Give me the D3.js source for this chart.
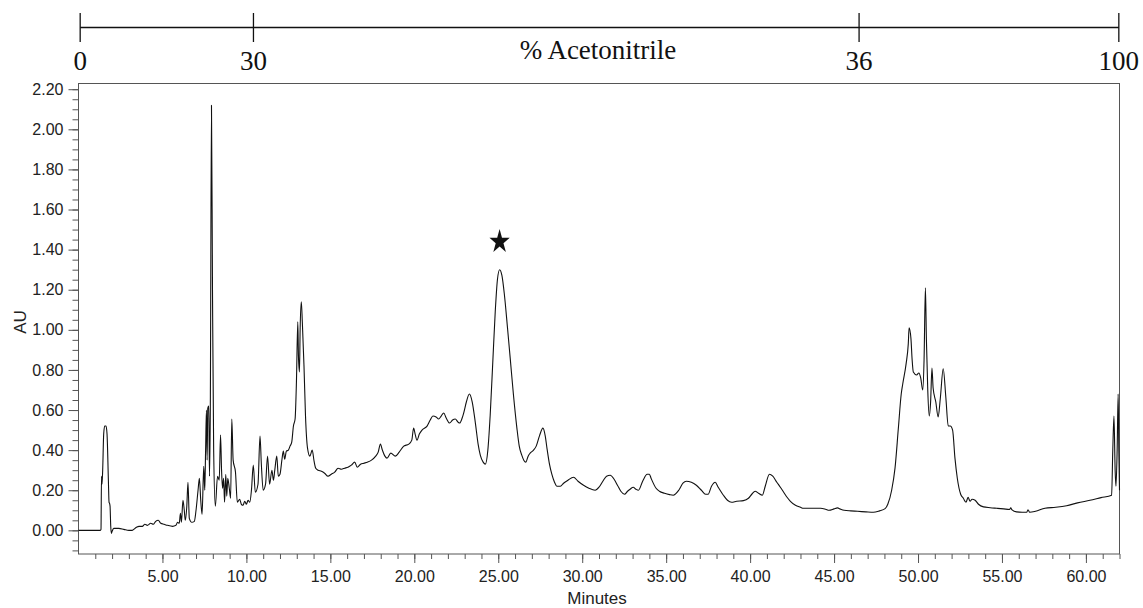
<!DOCTYPE html>
<html>
<head>
<meta charset="utf-8">
<script src="https://cdn.jsdelivr.net/npm/d3@7"></script>
<style>
    body { margin: 0; background: #fff; }
</style>
</head>
<body>
<svg id="chart" width="1143" height="608"></svg>
<script>
// chromatogram trace (minutes / AU)
var traceTime = [
    0, 1.30, 1.34, 1.37, 1.40, 1.44, 1.50, 1.56, 1.64, 1.70, 1.78, 1.82, 1.85, 1.88, 1.92, 1.96,
    2.00, 2.10, 2.40, 2.70, 3.00, 3.20, 3.45, 3.60, 3.80, 3.95, 4.10, 4.30, 4.45, 4.60, 4.75, 4.90,
    5.10, 5.30, 5.60, 5.80, 5.90, 6.00, 6.07, 6.13, 6.22, 6.30, 6.36, 6.45, 6.52, 6.60, 6.75, 6.90,
    7.00, 7.12, 7.20, 7.28, 7.36, 7.46, 7.52, 7.57, 7.62, 7.66, 7.70, 7.76, 7.80, 7.85, 7.92, 7.98,
    8.05, 8.15, 8.28, 8.38, 8.46, 8.52, 8.58, 8.64, 8.70, 8.77, 8.83, 8.89, 8.98, 9.06, 9.13, 9.21,
    9.35, 9.46, 9.60, 9.70, 9.80, 9.90, 10.00, 10.10, 10.20, 10.30, 10.41, 10.53, 10.69, 10.81, 10.89,
    11.00, 11.14, 11.26, 11.38, 11.52, 11.61, 11.69, 11.81, 11.90, 12.00, 12.12, 12.20, 12.28, 12.38,
    12.50, 12.60, 12.70, 12.80, 12.90, 12.98, 13.06, 13.10, 13.16, 13.20, 13.27, 13.33, 13.43, 13.52,
    13.64, 13.78, 13.92, 14.03, 14.13, 14.27, 14.47, 14.66, 14.86, 15.06, 15.26, 15.46, 15.66, 15.85,
    16.05, 16.25, 16.45, 16.60, 16.80, 17.00, 17.20, 17.45, 17.70, 17.85, 17.98, 18.10, 18.25, 18.37,
    18.60, 18.87, 19.10, 19.37, 19.67, 19.85, 19.96, 20.05, 20.16, 20.30, 20.46, 20.76, 20.95, 21.11,
    21.30, 21.45, 21.60, 21.75, 21.90, 22.10, 22.28, 22.44, 22.60, 22.70, 22.85, 22.94, 23.10, 23.28,
    23.45, 23.63, 23.80, 23.93, 24.10, 24.23, 24.38, 24.52, 24.68, 24.82, 24.95, 25.08, 25.22, 25.36,
    25.55, 25.71, 25.90, 26.11, 26.25, 26.40, 26.52, 26.64, 26.78, 26.90, 27.10, 27.26, 27.45, 27.66,
    27.80, 27.90, 28.05, 28.19, 28.35, 28.49, 28.70, 28.89, 29.15, 29.48, 29.75, 30.08, 30.40, 30.77,
    31.00, 31.23, 31.45, 31.67, 31.90, 32.10, 32.30, 32.52, 32.70, 32.85, 33.04, 33.20, 33.35, 33.60,
    33.87, 34.00, 34.10, 34.40, 34.60, 34.90, 35.20, 35.42, 35.75, 36.00, 36.20, 36.50, 36.80, 37.10,
    37.35, 37.50, 37.70, 37.92, 38.10, 38.41, 38.65, 38.90, 39.20, 39.60, 39.90, 40.10, 40.30, 40.50,
    40.73, 40.90, 41.15, 41.35, 41.59, 41.80, 42.00, 42.20, 42.40, 42.70, 43.00, 43.17, 43.70, 44.20,
    44.50, 44.70, 45.00, 45.20, 45.40, 45.60, 46.00, 46.40, 46.90, 47.34, 47.70, 48.04, 48.20, 48.43,
    48.63, 48.83, 49.00, 49.09, 49.29, 49.42, 49.47, 49.58, 49.65, 49.72, 49.92, 50.05, 50.16, 50.28,
    50.36, 50.44, 50.50, 50.58, 50.67, 50.75, 50.83, 50.90, 51.06, 51.20, 51.33, 51.50, 51.66, 51.80,
    51.92, 52.06, 52.20, 52.34, 52.54, 52.70, 52.86, 52.98, 53.10, 53.22, 53.40, 53.60, 53.90, 54.30,
    54.70, 55.10, 55.45, 55.52, 55.60, 55.87, 56.20, 56.47, 56.55, 56.65, 57.00, 57.56, 58.20, 58.85,
    59.50, 60.24, 60.90, 61.53, 61.60, 61.67, 61.74, 61.79, 61.86, 61.92, 61.96, 62.00
];
var traceAU = [
    0, 0, 0.005, 0.27, 0.23, 0.30, 0.48, 0.52, 0.52, 0.48, 0.25, 0.14, 0.135, 0.12, 0.02, -0.015,
    -0.005, 0.01, 0.01, 0.005, 0, 0, 0.015, 0.02, 0.02, 0.03, 0.025, 0.035, 0.03, 0.045, 0.05, 0.035,
    0.03, 0.025, 0.02, 0.025, 0.04, 0.035, 0.085, 0.04, 0.15, 0.10, 0.05, 0.12, 0.24, 0.06, 0.04, 0.045,
    0.10, 0.20, 0.26, 0.15, 0.08, 0.32, 0.20, 0.40, 0.60, 0.35, 0.61, 0.62, 0.27, 0.60, 2.12, 1.20,
    0.40, 0.12, 0.27, 0.25, 0.475, 0.30, 0.21, 0.26, 0.14, 0.28, 0.17, 0.26, 0.21, 0.16, 0.555, 0.35,
    0.29, 0.14, 0.155, 0.13, 0.125, 0.145, 0.13, 0.15, 0.14, 0.20, 0.325, 0.19, 0.23, 0.47, 0.33,
    0.20, 0.23, 0.37, 0.23, 0.30, 0.25, 0.30, 0.37, 0.27, 0.28, 0.355, 0.395, 0.355, 0.395,
    0.40, 0.42, 0.44, 0.52, 0.555, 0.74, 1.04, 0.87, 0.79, 1.00, 1.14, 1.04, 0.82, 0.57,
    0.41, 0.37, 0.40, 0.345, 0.31, 0.30, 0.295, 0.285, 0.27, 0.28, 0.29, 0.31, 0.305, 0.31,
    0.315, 0.325, 0.34, 0.315, 0.33, 0.335, 0.34, 0.35, 0.37, 0.39, 0.43, 0.40, 0.37, 0.36,
    0.385, 0.37, 0.39, 0.42, 0.43, 0.45, 0.51, 0.48, 0.45, 0.48, 0.50, 0.52, 0.55, 0.57,
    0.565, 0.555, 0.57, 0.585, 0.56, 0.535, 0.55, 0.555, 0.54, 0.535, 0.56, 0.585, 0.64, 0.68,
    0.64, 0.54, 0.43, 0.375, 0.34, 0.33, 0.40, 0.575, 0.85, 1.09, 1.25, 1.30, 1.27, 1.18,
    1.01, 0.86, 0.68, 0.51, 0.42, 0.375, 0.35, 0.34, 0.37, 0.385, 0.40, 0.42, 0.47, 0.51,
    0.47, 0.41, 0.33, 0.28, 0.24, 0.22, 0.22, 0.235, 0.25, 0.265, 0.245, 0.225, 0.21, 0.20,
    0.215, 0.245, 0.27, 0.275, 0.255, 0.225, 0.195, 0.18, 0.195, 0.205, 0.215, 0.205, 0.20, 0.245,
    0.28, 0.28, 0.26, 0.21, 0.195, 0.185, 0.178, 0.175, 0.20, 0.235, 0.245, 0.24, 0.225, 0.20,
    0.18, 0.18, 0.22, 0.24, 0.215, 0.175, 0.15, 0.14, 0.145, 0.148, 0.16, 0.18, 0.195, 0.185,
    0.175, 0.22, 0.28, 0.27, 0.24, 0.215, 0.19, 0.165, 0.145, 0.125, 0.115, 0.11, 0.11, 0.11,
    0.105, 0.10, 0.107, 0.112, 0.105, 0.10, 0.097, 0.095, 0.092, 0.09, 0.097, 0.108, 0.13, 0.20,
    0.31, 0.51, 0.68, 0.73, 0.83, 0.93, 1.01, 0.955, 0.85, 0.79, 0.775, 0.785, 0.76, 0.70,
    0.85, 1.21, 0.95, 0.70, 0.57, 0.64, 0.81, 0.71, 0.64, 0.565, 0.66, 0.806, 0.66, 0.52,
    0.52, 0.50, 0.36, 0.26, 0.18, 0.16, 0.14, 0.165, 0.145, 0.155, 0.15, 0.13, 0.117, 0.113,
    0.11, 0.107, 0.104, 0.112, 0.102, 0.092, 0.09, 0.09, 0.102, 0.09, 0.095, 0.11, 0.115, 0.123,
    0.137, 0.15, 0.163, 0.175, 0.40, 0.57, 0.30, 0.22, 0.40, 0.68, 0.40, 0.20
];

// gradient bar on top: % acetonitrile at given times
var gradientPct = [0, 30, 36, 100];
var gradientTime = [0.1, 10.42, 46.49, 61.96];

var xMajorTicks = [5, 10, 15, 20, 25, 30, 35, 40, 45, 50, 55, 60];
var xMinorTicks = d3.range(1, 63);
var yMajorTicks = [0, 0.2, 0.4, 0.6, 0.8, 1.0, 1.2, 1.4, 1.6, 1.8, 2.0, 2.2];
var yMinorTicks = d3.range(-2, 45).map(function(i) { return i * 0.05; });

var markedPeak = { time: 25.08, au: 1.30 };

var svg = d3.select('#chart');
var x = d3.scaleLinear().domain([0, 62]).range([78.5, 1119.5]);
var y = d3.scaleLinear().domain([-0.118, 2.231]).range([554, 83]);
var sans = '"Liberation Sans", Arial, Helvetica, sans-serif';
var serif = '"Liberation Serif", "Times New Roman", serif';
var axisColor = '#555';

// minor ticks first, then labelled majors
svg.append('g').attr('transform', 'translate(0,554)')
    .call(d3.axisBottom(x).tickValues(xMinorTicks).tickSize(5).tickFormat(''))
    .call(function(g) { g.select('.domain').remove(); g.selectAll('line').attr('stroke', axisColor); });
svg.append('g').attr('transform', 'translate(0,554)')
    .call(d3.axisBottom(x).tickValues(xMajorTicks).tickSize(9).tickPadding(8).tickFormat(d3.format('.2f')))
    .call(function(g) {
        g.select('.domain').remove();
        g.selectAll('line').attr('stroke', axisColor);
        g.selectAll('text').attr('font-family', sans).attr('font-size', 16).attr('fill', '#222');
    });

svg.append('g').attr('transform', 'translate(78.5,0)')
    .call(d3.axisLeft(y).tickValues(yMinorTicks).tickSize(6).tickFormat(''))
    .call(function(g) { g.select('.domain').remove(); g.selectAll('line').attr('stroke', axisColor); });
svg.append('g').attr('transform', 'translate(78.5,0)')
    .call(d3.axisLeft(y).tickValues(yMajorTicks).tickSize(10).tickPadding(5).tickFormat(d3.format('.2f')))
    .call(function(g) {
        g.select('.domain').remove();
        g.selectAll('line').attr('stroke', axisColor);
        g.selectAll('text').attr('font-family', sans).attr('font-size', 16).attr('fill', '#222');
    });

// plot frame
svg.append('rect').attr('x', 78.5).attr('y', 83.5)
    .attr('width', 1041).attr('height', 470.5)
    .attr('fill', 'none').attr('stroke', axisColor).attr('stroke-width', 1);

svg.append('text').attr('x', 597).attr('y', 604)
    .attr('text-anchor', 'middle').attr('font-family', sans).attr('font-size', 17).attr('fill', '#222')
    .text('Minutes');
svg.append('text').attr('transform', 'translate(26,322) rotate(-90)')
    .attr('text-anchor', 'middle').attr('font-family', sans).attr('font-size', 17).attr('fill', '#222')
    .text('AU');

// trace
var line = d3.line()
    .x(function(d) { return x(d[0]); })
    .y(function(d) { return y(d[1]); })
    .curve(d3.curveMonotoneX);
svg.append('path')
    .datum(d3.zip(traceTime, traceAU))
    .attr('d', line)
    .attr('fill', 'none').attr('stroke', '#111').attr('stroke-width', 1.1)
    .attr('stroke-linejoin', 'round');

// star over the marked peak
svg.append('path')
    .attr('d', d3.symbol().type(d3.symbolStar).size(165)())
    .attr('transform', 'translate(' + x(markedPeak.time) + ',' + (y(markedPeak.au) - 28) + ') scale(0.88,1.05)')
    .attr('fill', '#111');

// gradient axis across the top
var gradAxis = svg.append('g');
gradAxis.append('line')
    .attr('x1', x(gradientTime[0])).attr('x2', x(gradientTime[gradientTime.length - 1]))
    .attr('y1', 27.5).attr('y2', 27.5)
    .attr('stroke', '#111').attr('stroke-width', 1.3);
var marks = gradAxis.selectAll('g.grad').data(gradientPct).enter().append('g')
    .attr('transform', function(d, i) { return 'translate(' + x(gradientTime[i]) + ',0)'; });
marks.append('line').attr('y1', 13).attr('y2', 42)
    .attr('stroke', '#111').attr('stroke-width', 1.3);
marks.append('text').attr('y', 70)
    .attr('text-anchor', 'middle').attr('font-family', serif).attr('font-size', 27).attr('fill', '#111')
    .text(function(d) { return d; });
gradAxis.append('text').attr('x', 598).attr('y', 59)
    .attr('text-anchor', 'middle').attr('font-family', serif).attr('font-size', 27).attr('fill', '#111')
    .text('% Acetonitrile');
</script>
</body>
</html>
